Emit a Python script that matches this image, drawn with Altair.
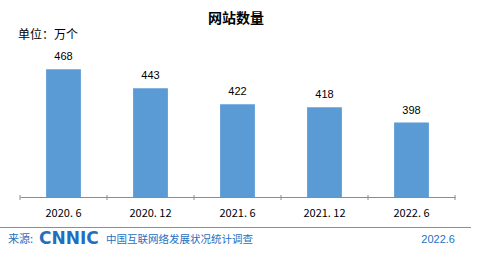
import altair as alt
import pandas as pd

periods = ["2020. 6", "2020. 12", "2021. 6", "2021. 12", "2022. 6"]
values = [468, 443, 422, 418, 398]
title_text = "网站数量"
unit_text = "单位：万个"
source_label = "来源:"
logo_text = "CNNIC"
survey_text = "中国互联网络发展状况统计调查"
date_text = "2022.6"

df = pd.DataFrame({"period": periods, "value": values})
bounds = pd.DataFrame({"b": list(range(len(periods) + 1))})

W, H = 435, 152
TOP = 45
BLUE = "#5B9BD5"
FOOT = "#1F6FC0"
AXC = "#8C8C8C"
CJK = "Noto Sans CJK SC"
LAT = "Liberation Sans"

x = alt.X("period:N", sort=periods,
          scale=alt.Scale(paddingInner=0.6, paddingOuter=0.3),
          axis=alt.Axis(title=None, ticks=False, domainColor=AXC, labelFont=CJK,
                        labelFontSize=11, labelColor="#000000", labelPadding=10,
                        labelAngle=0))
y = alt.Y("value:Q", scale=alt.Scale(domain=[300, 500], zero=False),
          axis=None)

base = alt.Chart(df)
bars = base.mark_bar(color=BLUE, clip=True).encode(x=x, y=y, y2=alt.datum(300))
labels = base.mark_text(dy=-12, fontSize=11, font=LAT, color="#000000").encode(
    x=alt.X("period:N", sort=periods), y="value:Q", text="value:Q")
main = alt.layer(bars, labels)

ticks = alt.Chart(bounds).mark_rule(color=AXC, strokeWidth=1).encode(
    x=alt.X("b:Q", scale=alt.Scale(domain=[0, len(periods)], nice=False, zero=False),
            axis=None),
    y=alt.value(H - 2), y2=alt.value(H + 3))

def txt(t, **kw):
    return alt.Chart(pd.DataFrame({"t": [t]})).mark_text(**kw).encode(text="t:N")

title = txt(title_text, font=CJK, fontSize=14, fontWeight="bold", color="#000000",
            align="center", baseline="middle").encode(x=alt.value(216), y=alt.value(19 - TOP))
unit = txt(unit_text, font=CJK, fontSize=12, color="#000000",
           align="left", baseline="middle").encode(x=alt.value(-2), y=alt.value(35 - TOP))
line = alt.Chart(pd.DataFrame({"a": [0]})).mark_rule(color=BLUE, strokeWidth=1).encode(
    x=alt.value(-20), x2=alt.value(451), y=alt.value(227.5 - TOP))
src = txt(source_label, font=CJK, fontSize=11, color=FOOT, align="left",
          baseline="middle").encode(x=alt.value(-12), y=alt.value(240 - TOP))
logo = txt(logo_text, font="DejaVu Sans", fontSize=17, fontWeight="bold", color=FOOT,
           align="left", baseline="middle").encode(x=alt.value(19), y=alt.value(239 - TOP))
survey = txt(survey_text, font=CJK, fontSize=10.5, color=FOOT, align="left",
             baseline="middle").encode(x=alt.value(86), y=alt.value(240 - TOP))
date = txt(date_text, font=LAT, fontSize=11, color=FOOT, align="right",
           baseline="middle").encode(x=alt.value(435), y=alt.value(240 - TOP))

chart = alt.layer(main, ticks, title, unit, line, src, logo, survey, date).resolve_scale(
    x="independent").properties(
    width=W, height=H,
    autosize=alt.AutoSizeParams(type="none"),
    padding={"left": 20, "top": TOP, "right": 22, "bottom": 255 - TOP - H},
    background="white",
).configure_view(stroke=None)

chart.save("out.html", embed_options={"renderer": "svg", "actions": False})
